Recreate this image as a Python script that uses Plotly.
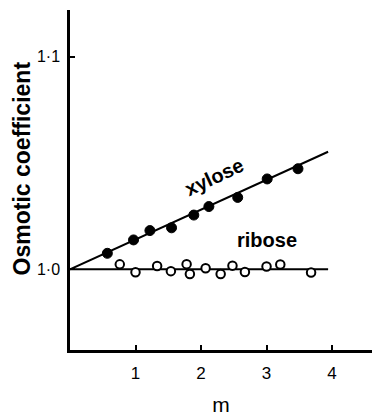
import plotly.graph_objects as go

# Osmotic coefficient vs molality for two pentoses
xylose_m = [0.57, 0.97, 1.22, 1.55, 1.89, 2.12, 2.56, 3.01, 3.48]
xylose_phi = [1.0075, 1.0138, 1.0182, 1.0195, 1.0255, 1.0295, 1.0338, 1.0425, 1.0473]

ribose_m = [0.76, 1.0, 1.33, 1.54, 1.78, 1.83, 2.07, 2.30, 2.48, 2.67, 3.0, 3.21, 3.68]
ribose_phi = [1.0023, 0.9986, 1.0015, 0.9991, 1.0024, 0.9978, 1.0005, 0.9978, 1.0017,
              0.9987, 1.0013, 1.0022, 0.9985]

# straight-line fits drawn through each series
fit_m = [0.0, 3.94]
xylose_fit = [1.0, 1.0553]
ribose_fit = [1.0, 1.0]

x_ticks = [1, 2, 3, 4]
x_tick_text = ["1", "2", "3", "4"]
y_ticks = [1.0, 1.1]
y_tick_text = ["1·0", "1·1"]

fig = go.Figure()

fig.add_trace(go.Scatter(x=fit_m, y=xylose_fit, mode="lines",
                         line=dict(color="black", width=2), hoverinfo="skip"))
fig.add_trace(go.Scatter(x=fit_m, y=ribose_fit, mode="lines",
                         line=dict(color="black", width=2), hoverinfo="skip"))
fig.add_trace(go.Scatter(x=xylose_m, y=xylose_phi, mode="markers", name="xylose",
                         marker=dict(symbol="circle", size=10, color="black",
                                     line=dict(color="black", width=1))))
fig.add_trace(go.Scatter(x=ribose_m, y=ribose_phi, mode="markers", name="ribose",
                         marker=dict(symbol="circle", size=8.5, color="white",
                                     line=dict(color="black", width=2))))

fig.add_annotation(x=2.2, y=1.0435, text="<b>xylose</b>", showarrow=False,
                   textangle=-25, font=dict(family="Liberation Sans", size=20, color="black"))
fig.add_annotation(x=3.0, y=1.0138, text="<b>ribose</b>", showarrow=False,
                   font=dict(family="Liberation Sans", size=20, color="black"))

# vertical axis title, placed in paper coordinates
fig.add_annotation(xref="paper", yref="paper", x=-0.158, y=0.535,
                   xanchor="center", yanchor="middle",
                   text="<b>Osmotic coefficient</b>", showarrow=False, textangle=-90,
                   font=dict(family="Liberation Sans", size=23, color="black"))

fig.update_layout(
    width=374, height=416,
    margin=dict(l=70, r=2, t=10, b=59),
    paper_bgcolor="white", plot_bgcolor="white",
    showlegend=False,
    font=dict(family="Liberation Sans", color="black"),
    xaxis=dict(range=[0, 4.61], showgrid=False, zeroline=False,
               showline=True, linecolor="black", linewidth=2.5,
               ticks="inside", ticklen=5, tickwidth=1.5, tickcolor="black",
               tickvals=x_ticks, ticktext=x_tick_text,
               tickfont=dict(size=17), ticklabelstandoff=6,
               title=dict(text="m", font=dict(size=21), standoff=16)),
    yaxis=dict(range=[0.962, 1.122], showgrid=False, zeroline=False,
               showline=True, linecolor="black", linewidth=2.5,
               ticks="inside", ticklen=5, tickwidth=1.5, tickcolor="black",
               tickvals=y_ticks, ticktext=y_tick_text,
               tickfont=dict(size=16), ticklabelstandoff=4),
)

fig.write_html("out.html")
